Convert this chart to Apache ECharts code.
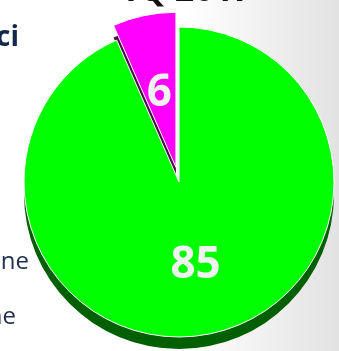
<!DOCTYPE html>
<html>
<head>
<meta charset="utf-8">
<script src="https://cdn.jsdelivr.net/npm/echarts@6/dist/echarts.min.js"></script>
<style>
html,body{margin:0;padding:0;}
#chart{width:339px;height:351px;}
</style>
</head>
<body>
<div id="chart"></div>
<script>
const categories = ['A', 'B'];
const values = [85, 6];
const faceColors = ['#00ff00', '#ff00ff'];
const sideColors = ['#006000', '#4e0c4e'];
const titleText = '1Q 2017';

const chart = echarts.init(document.getElementById('chart'));

function buildData(colors) {
  return categories.map((c, i) => ({
    name: c,
    value: values[i],
    selected: i === 1,
    itemStyle: { color: colors[i] }
  }));
}

const base = {
  type: 'pie',
  radius: 155,
  startAngle: 90,
  clockwise: true,
  selectedMode: 'single',
  selectedOffset: 15,
  avoidLabelOverlap: false,
  labelLine: { show: false },
  emphasis: { disabled: true },
  animation: false
};

chart.setOption({
  backgroundColor: {
    type: 'linear', x: 0, y: 0, x2: 1, y2: 0,
    colorStops: [
      { offset: 0, color: '#ffffff' },
      { offset: 0.55, color: '#ffffff' },
      { offset: 1, color: '#e2e2e2' }
    ]
  },
  graphic: [
    { type: 'text', x: 186, y: -9, z: 10,
      style: { text: titleText, fill: '#111111', font: 'bold 34px "Open Sans"', textAlign: 'center', textVerticalAlign: 'middle' } },
    { type: 'text', x: 19, y: 38, z: 10,
      style: { text: 'ci', fill: '#14284b', font: 'bold 28px "Open Sans"', textAlign: 'right', textVerticalAlign: 'middle' } },
    { type: 'text', x: 29, y: 262, z: 10,
      style: { text: 'ne', fill: '#22314f', font: '24px "Open Sans"', textAlign: 'right', textVerticalAlign: 'middle' } },
    { type: 'text', x: 16, y: 317, z: 10,
      style: { text: 'ne', fill: '#22314f', font: '24px "Open Sans"', textAlign: 'right', textVerticalAlign: 'middle' } }
  ],
  series: [
    Object.assign({}, base, {
      name: 'side',
      center: [179, 194],
      silent: true,
      z: 1,
      label: { show: false },
      itemStyle: { borderWidth: 0 },
      data: buildData(sideColors)
    }),
    Object.assign({}, base, {
      name: 'face',
      center: [179, 182],
      z: 2,
      itemStyle: { borderColor: '#ffffff', borderWidth: 1 },
      label: {
        show: true,
        position: 'inside',
        formatter: '{c}',
        color: '#f2f2f2',
        fontSize: 44,
        fontWeight: 'bold',
        fontFamily: 'Open Sans'
      },
      labelLayout: { dy: 5 },
      data: buildData(faceColors)
    })
  ]
});
</script>
</body>
</html>
